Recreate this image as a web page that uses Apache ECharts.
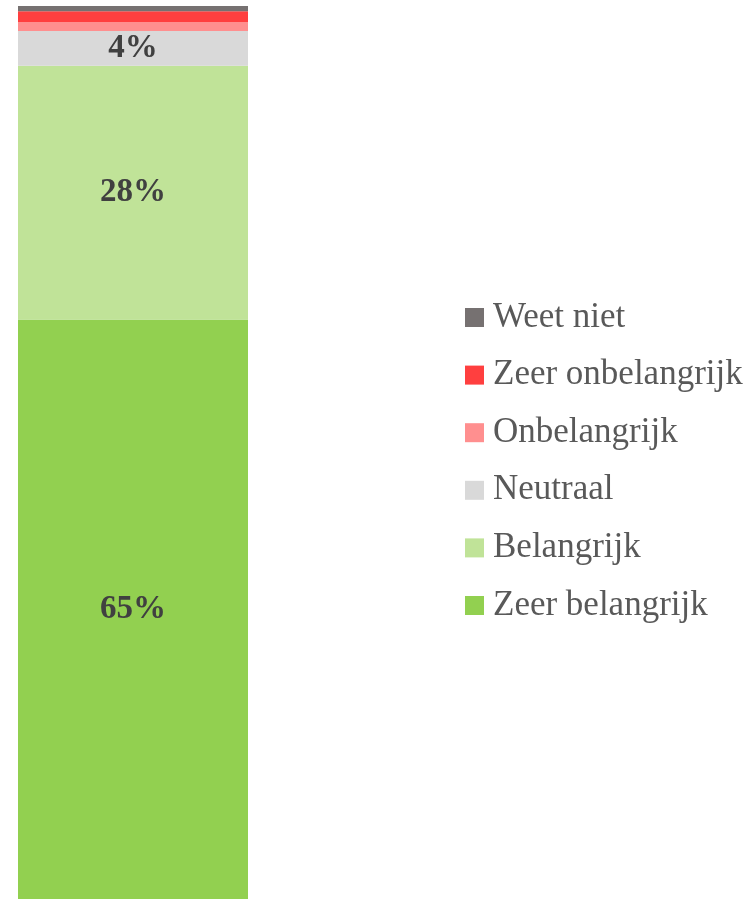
<!DOCTYPE html>
<html>
<head>
<meta charset="utf-8">
<script src="https://cdn.jsdelivr.net/npm/echarts@6/dist/echarts.min.js"></script>
<style>
  html, body { margin: 0; padding: 0; background: #fff; }
  #chart { width: 756px; height: 899px; }
</style>
</head>
<body>
<div id="chart"></div>
<script>
// bottom to top
const seriesNames = ['Zeer belangrijk', 'Belangrijk', 'Neutraal', 'Onbelangrijk', 'Zeer onbelangrijk', 'Weet niet'];
const seriesValues = [64.9, 28.4, 3.9, 1.0, 1.2, 0.6];
const seriesColors = ['#92D050', '#C0E398', '#D9D9D9', '#FF8F8F', '#FF3F3F', '#767171'];
const legendOrder = ['Weet niet', 'Zeer onbelangrijk', 'Onbelangrijk', 'Neutraal', 'Belangrijk', 'Zeer belangrijk'];

const chart = echarts.init(document.getElementById('chart'));

const series = seriesNames.map((name, i) => ({
  name,
  type: 'bar',
  stack: 'total',
  barWidth: '100%',
  data: [seriesValues[i]],
  itemStyle: { color: seriesColors[i] },
  label: {
    show: seriesValues[i] >= 3,
    position: 'inside',
    formatter: (p) => Math.round(p.value) + '%',
    fontFamily: 'Liberation Serif',
    fontWeight: 'bold',
    fontSize: 33,
    color: '#404040'
  }
}));

chart.setOption({
  animation: false,
  legend: {
    data: legendOrder,
    orient: 'vertical',
    left: 460,
    top: 295,
    itemWidth: 19,
    itemHeight: 19,
    itemGap: 22.6,
    icon: 'rect',
    textStyle: { fontFamily: 'Liberation Serif', fontSize: 35, color: '#595959', padding: [0, 0, 0, 4] }
  },
  grid: { left: 18, top: 6, width: 230, bottom: 0 },
  xAxis: { type: 'category', data: [''], show: false },
  yAxis: { type: 'value', min: 0, max: 100, show: false },
  series
});
</script>
</body>
</html>
